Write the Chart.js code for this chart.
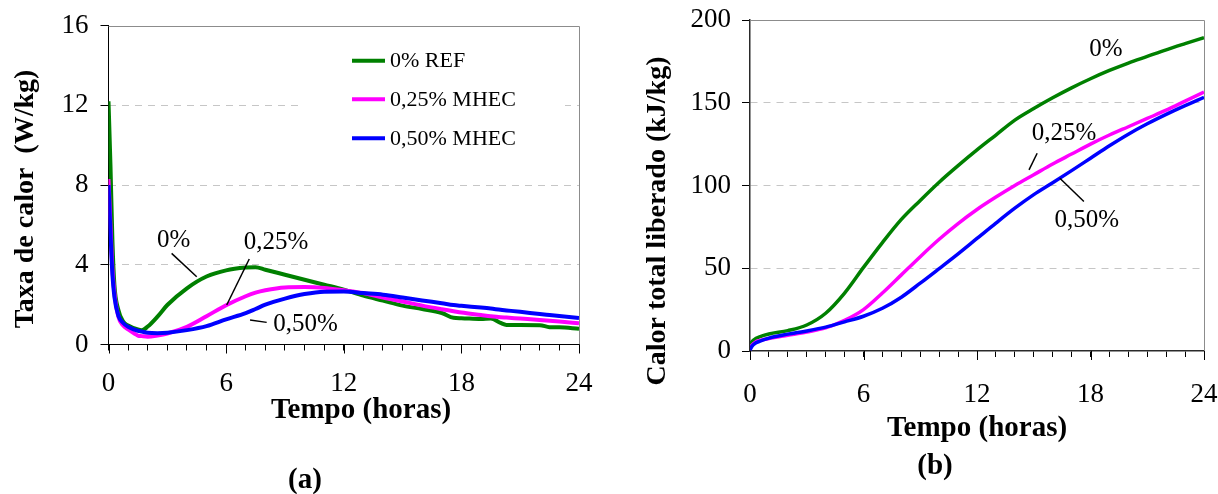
<!DOCTYPE html>
<html>
<head>
<meta charset="utf-8">
<script src="https://cdn.jsdelivr.net/npm/chart.js@4.4.0/dist/chart.umd.min.js"></script>
<style>
  html, body { margin: 0; padding: 0; background: #fff; overflow: hidden; }
  #caixaA { position: absolute; left: 0; top: 0; width: 600px; height: 494px; }
  #caixaB { position: absolute; left: 620px; top: 0; width: 610px; height: 494px; }
</style>
</head>
<body>
<div id="caixaA"><canvas id="graficoA" width="600" height="494"></canvas></div>
<div id="caixaB"><canvas id="graficoB" width="610" height="494"></canvas></div>
<script>
// ---- dados ----
const rotulos = ['0% REF', '0,25% MHEC', '0,50% MHEC'];
const cores = ['#008000', '#ff00ff', '#0000ff'];

// (a) taxa de calor (W/kg)
const horasA = [0, 0.1, 0.2, 0.3, 0.5, 0.75, 1, 1.5, 1.7, 2, 2.5, 3, 4, 5, 6, 7, 7.5, 8, 9, 10,
                11, 12, 13, 14, 15, 16, 17, 17.6, 18, 19, 19.5, 20, 20.3, 21, 22, 22.5, 23, 24];
const taxaRef = [12.2, 9.0, 5.2, 3.0, 1.75, 1.15, 0.95, 0.75, 0.72, 0.9, 1.4, 1.98, 2.82, 3.41, 3.72, 3.86, 3.88, 3.75, 3.5, 3.25,
                 3.0, 2.75, 2.45, 2.2, 1.95, 1.78, 1.58, 1.34, 1.32, 1.28, 1.3, 1.08, 0.98, 0.98, 0.97, 0.87, 0.86, 0.79];
const taxa025 = [8.3, 6.0, 3.8, 2.6, 1.4, 0.95, 0.76, 0.45, 0.42, 0.39, 0.45, 0.55, 0.89, 1.42, 1.97, 2.42, 2.6, 2.72, 2.86, 2.88,
                 2.84, 2.72, 2.58, 2.35, 2.16, 1.95, 1.77, 1.67, 1.6, 1.48, 1.42, 1.37, 1.35, 1.3, 1.23, 1.19, 1.15, 1.06];
const taxa050 = [8.0, 5.6, 3.5, 2.4, 1.45, 1.08, 0.89, 0.69, 0.65, 0.59, 0.57, 0.59, 0.72, 0.92, 1.26, 1.57, 1.78, 2.0, 2.3, 2.53,
                 2.65, 2.66, 2.58, 2.5, 2.36, 2.21, 2.07, 1.98, 1.94, 1.85, 1.8, 1.74, 1.71, 1.64, 1.53, 1.48, 1.43, 1.33];

// (b) calor total liberado (kJ/kg)
const horasB = [0, 0.1, 0.3, 0.5, 1, 2, 3, 4, 5, 6, 7, 8, 9, 10, 11, 12,
                13, 14, 15, 16, 17, 18, 19, 20, 21, 22, 23, 24];
const calorRef = [3.6, 5.6, 7.5, 8.6, 10.3, 12.3, 15.7, 22.8, 35, 50.5, 65.5, 79.5, 91, 102, 112, 121.5,
                  130.5, 139.5, 146.5, 153, 159, 164.5, 169.5, 174, 178, 182, 185.7, 189.3];
const calor025 = [1.0, 3.5, 5.5, 6.3, 7.5, 9.5, 11.5, 14, 18.5, 25, 35, 46, 57, 67.5, 77, 85.5,
                  93, 100, 106.5, 113, 119, 125, 130.5, 135.5, 140.5, 145.5, 151, 156.5];
const calor050 = [0.6, 2.8, 4.8, 5.8, 7.8, 10.2, 12.1, 14.4, 17.6, 21, 25.8, 32.5, 41, 49.8, 58.7, 68,
                  77.3, 86.3, 94.5, 101.7, 109, 116.5, 124, 131, 137.3, 143, 148.3, 153.3];

const ticksA = [0, 4, 8, 12, 16];
const ticksB = [0, 50, 100, 150, 200];
const horasMaiores = [0, 6, 12, 18, 24];

const SERIF = '"Liberation Serif", "Times New Roman", Times, serif';
Chart.defaults.font.family = SERIF;
Chart.defaults.color = '#000';

function pontos(horas, valores) {
    return horas.map((h, i) => ({ x: h, y: valores[i] }));
}

function series(horas, listas, largura) {
    // azul por cima, depois rosa, verde por baixo
    return listas.map((v, i) => ({
        label: rotulos[i],
        data: pontos(horas, v),
        borderColor: cores[i],
        backgroundColor: cores[i],
        borderWidth: largura,
        pointRadius: 0,
        cubicInterpolationMode: 'monotone',
        order: 3 - i
    }));
}

// textos extras, moldura e legenda
const extras = {
    id: 'extras',
    beforeDatasetsDraw(chart, args, o) {
        const { ctx, chartArea: a } = chart;
        const sx = chart.scales.x;
        ctx.save();
        ctx.strokeStyle = '#8c8c8c';
        ctx.lineWidth = 1;
        ctx.beginPath();
        ctx.moveTo(a.left, Math.round(a.top) + 0.5);
        ctx.lineTo(Math.round(a.right) + 0.5, Math.round(a.top) + 0.5);
        ctx.lineTo(Math.round(a.right) + 0.5, a.bottom);
        ctx.stroke();
        // marcas maiores no eixo x
        ctx.strokeStyle = '#000';
        ctx.beginPath();
        horasMaiores.forEach(h => {
            const px = Math.round(sx.getPixelForValue(h)) + 0.5;
            ctx.moveTo(px, a.bottom);
            ctx.lineTo(px, a.bottom + 9);
        });
        ctx.stroke();
        if (o.legenda) {
            const L = o.legenda;
            ctx.fillStyle = '#fff';
            ctx.fillRect(L.caixa[0], L.caixa[1], L.caixa[2], L.caixa[3]);
        }
        ctx.restore();
    },
    afterDraw(chart, args, o) {
        const { ctx } = chart;
        const sx = chart.scales.x, sy = chart.scales.y;
        ctx.save();
        ctx.fillStyle = '#000';

        // titulo do eixo y
        ctx.save();
        ctx.translate(o.tituloY.x, o.tituloY.y);
        ctx.rotate(-Math.PI / 2);
        ctx.font = 'bold 28px ' + SERIF;
        ctx.textAlign = 'center';
        ctx.textBaseline = 'middle';
        ctx.fillText(o.tituloY.texto, 0, 0);
        ctx.restore();

        // titulo do eixo x e letra do painel
        ctx.font = 'bold 29px ' + SERIF;
        ctx.textAlign = 'center';
        ctx.textBaseline = 'middle';
        ctx.fillText(o.tituloX.texto, o.tituloX.x, o.tituloX.y);
        ctx.fillText(o.painel.texto, o.painel.x, o.painel.y);

        // notas sobre as curvas
        ctx.font = '25px ' + SERIF;
        ctx.strokeStyle = '#000';
        ctx.lineWidth = 1.5;
        o.notas.forEach(n => {
            ctx.fillText(n.texto, sx.getPixelForValue(n.x), sy.getPixelForValue(n.y));
            if (n.linha) {
                ctx.beginPath();
                ctx.moveTo(sx.getPixelForValue(n.linha[0]), sy.getPixelForValue(n.linha[1]));
                ctx.lineTo(sx.getPixelForValue(n.linha[2]), sy.getPixelForValue(n.linha[3]));
                ctx.stroke();
            }
        });

        // legenda
        if (o.legenda) {
            const L = o.legenda;
            ctx.font = '22px ' + SERIF;
            ctx.textAlign = 'left';
            chart.data.datasets.forEach((ds, i) => {
                const y = L.linhas[i];
                ctx.strokeStyle = ds.borderColor;
                ctx.lineWidth = 4;
                ctx.beginPath();
                ctx.moveTo(L.x0, y);
                ctx.lineTo(L.x1, y);
                ctx.stroke();
                ctx.fillText(ds.label, L.xt, y + 1);
            });
        }
        ctx.restore();
    }
};

// tira o espaço extra que o Chart.js reserva para os rótulos das pontas
function semSobra(s) {
    s.paddingTop = 0; s.paddingBottom = 0; s.paddingLeft = 0; s.paddingRight = 0;
}

function eixos(maxY, passoY, marcasY, cfg) {
    return {
        x: {
            type: 'linear', min: 0, max: 24,
            ticks: {
                stepSize: 1, autoSkip: false, maxRotation: 0, maxTicksLimit: 30,
                padding: cfg.padX, font: { size: 27 },
                callback: v => (v % 6 === 0 ? String(v) : '')
            },
            grid: { drawOnChartArea: false, tickLength: 6, tickColor: '#000', color: '#000' },
            border: { color: cfg.corEixo, width: cfg.larguraEixo },
            afterFit: s => { s.height = cfg.altX; semSobra(s); }
        },
        y: {
            min: 0, max: maxY,
            afterBuildTicks: s => { s.ticks = marcasY.map(v => ({ value: v })); },
            ticks: { stepSize: passoY, padding: cfg.padY, font: { size: 27 } },
            grid: {
                color: c => (c.tick && (c.tick.value === 0 || c.tick.value === maxY)) ? 'rgba(0,0,0,0)' : '#c6c6c6',
                tickColor: '#000', tickLength: 8, lineWidth: 1
            },
            border: { color: cfg.corEixo, width: cfg.larguraEixo, dash: [7, 6] },
            afterFit: s => { s.width = cfg.largY; semSobra(s); }
        }
    };
}

new Chart(document.getElementById('graficoA'), {
    type: 'line',
    data: { datasets: series(horasA, [taxaRef, taxa025, taxa050], 4) },
    options: {
        responsive: false,
        animation: false,
        layout: { padding: { top: 25.5, right: 21, left: 0, bottom: 0 } },
        scales: eixos(16, 4, ticksA, { padX: 17, padY: 12, altX: 149.5, largY: 108.5, corEixo: '#000', larguraEixo: 1 }),
        plugins: {
            legend: { display: false },
            tooltip: { enabled: false },
            extras: {
                tituloY: { texto: 'Taxa de calor  (W/kg)', x: 26, y: 199 },
                tituloX: { texto: 'Tempo (horas)', x: 361, y: 411 },
                painel: { texto: '(a)', x: 305, y: 481 },
                notas: [
                    { texto: '0%', x: 3.32, y: 5.24, linha: [3.22, 4.57, 4.5, 3.40] },
                    { texto: '0,25%', x: 8.55, y: 5.14, linha: [7.18, 4.29, 6.03, 1.98] },
                    { texto: '0,50%', x: 10.05, y: 1.03, linha: [7.22, 1.23, 8.07, 1.11] }
                ],
                legenda: { caixa: [300, 38, 265, 122], x0: 352, x1: 385, xt: 390, linhas: [60.7, 99.3, 138.3] }
            }
        }
    },
    plugins: [extras]
});

new Chart(document.getElementById('graficoB'), {
    type: 'line',
    data: { datasets: series(horasB, [calorRef, calor025, calor050], 3.5) },
    options: {
        responsive: false,
        animation: false,
        layout: { padding: { top: 20, right: 26, left: 0, bottom: 0 } },
        scales: eixos(200, 50, ticksB, { padX: 22, padY: 11, altX: 143, largY: 130, corEixo: '#2a2a2a', larguraEixo: 1.5 }),
        plugins: {
            legend: { display: false },
            tooltip: { enabled: false },
            extras: {
                tituloY: { texto: 'Calor total liberado (kJ/kg)', x: 38, y: 221 },
                tituloX: { texto: 'Tempo (horas)', x: 357, y: 429 },
                painel: { texto: '(b)', x: 315, y: 467 },
                notas: [
                    { texto: '0%', x: 18.82, y: 182 },
                    { texto: '0,25%', x: 16.6, y: 131.2, linha: [15.18, 119.5, 14.75, 109.4] },
                    { texto: '0,50%', x: 17.81, y: 78.6, linha: [16.38, 104.4, 17.65, 90.3] }
                ]
            }
        }
    },
    plugins: [extras]
});
</script>
</body>
</html>
